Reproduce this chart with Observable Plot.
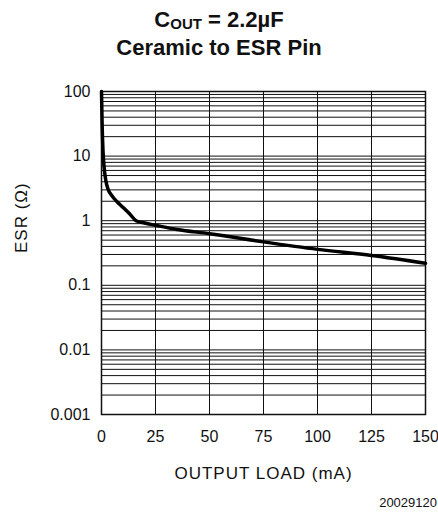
<!DOCTYPE html>
<html><head><meta charset="utf-8">
<script src="https://cdn.jsdelivr.net/npm/d3@7"></script>
<script src="https://cdn.jsdelivr.net/npm/@observablehq/plot@0.6"></script>
<style>
body{margin:0;background:#fff;width:438px;height:512px;position:relative;overflow:hidden;font-family:"Liberation Sans",Arial,sans-serif;}
#title{height:70px;box-sizing:border-box;padding-top:6px;text-align:center;font-weight:bold;font-size:22px;line-height:28px;color:#111;}
#title sub{font-size:15px;vertical-align:-2px;line-height:0;}
#chart{height:422px;}
#foot{position:absolute;right:1px;top:495px;font-size:13px;line-height:15px;color:#111;}
</style></head><body>
<div id="title">C<sub>OUT</sub> = 2.2µF<br>Ceramic to ESR Pin</div>
<div id="chart"></div>
<div id="foot">20029120</div>
<script>
// Curve: output load (mA) vs ESR (ohm)
const loadMA = [0, 0.3, 0.7, 1.2, 2, 3, 5, 7, 10, 13, 16, 20, 25, 35, 50, 75, 100, 125, 150];
const esrOhm = [100, 30, 12, 6.8, 4.2, 3.1, 2.4, 2.0, 1.6, 1.28, 1.0, 0.92, 0.85, 0.73, 0.63, 0.47, 0.36, 0.29, 0.22];
const xTicks = [0, 25, 50, 75, 100, 125, 150];
const yTicks = [0.001, 0.01, 0.1, 1, 10, 100];
const minorMultipliers = [1, 2, 3, 4, 5, 6, 7, 8, 9];
const xLabel = "OUTPUT LOAD (mA)";
const yLabel = "ESR (Ω)";

const data = loadMA.map((x, i) => ({x, y: esrOhm[i]}));
const gridYValues = yTicks.slice(0, -1).flatMap(d => minorMultipliers.map(m => d * m)).concat([yTicks[yTicks.length - 1]]);

const chart = Plot.plot({
  width: 438, height: 422,
  marginLeft: 101, marginRight: 13, marginTop: 21, marginBottom: 78,
  style: {fontFamily: "'Liberation Sans', Arial, sans-serif", fontSize: "16px", color: "#111", background: "white"},
  x: {domain: [0, 150]},
  y: {type: "log", domain: [0.001, 100]},
  marks: [
    Plot.gridX(xTicks, {stroke: "#111", strokeOpacity: 1, strokeWidth: 1}),
    Plot.gridY(gridYValues, {stroke: "#111", strokeOpacity: 1, strokeWidth: 1}),
    Plot.frame({stroke: "#111", strokeWidth: 1.5}),
    Plot.axisX({ticks: xTicks, tickSize: 0, tickPadding: 16, label: null, fontSize: 16}),
    Plot.axisY({ticks: yTicks, tickSize: 0, tickPadding: 11, tickFormat: d => String(d), label: null, fontSize: 16}),
    Plot.text([xLabel], {text: d => d, frameAnchor: "bottom", dy: 64, fontSize: 17, fill: "#111"}),
    Plot.text([yLabel], {text: d => d, frameAnchor: "left", rotate: -90, dx: -80, fontSize: 17, fill: "#111"}),
    Plot.line(data, {x: "x", y: "y", stroke: "#000", strokeWidth: 3.5, curve: "monotone-x"})
  ]
});
d3.select(chart).selectAll("text").filter(function() { return this.textContent === xLabel || this.textContent === yLabel; })
  .attr("letter-spacing", "1px");
document.getElementById("chart").appendChild(chart);
</script>
</body></html>
